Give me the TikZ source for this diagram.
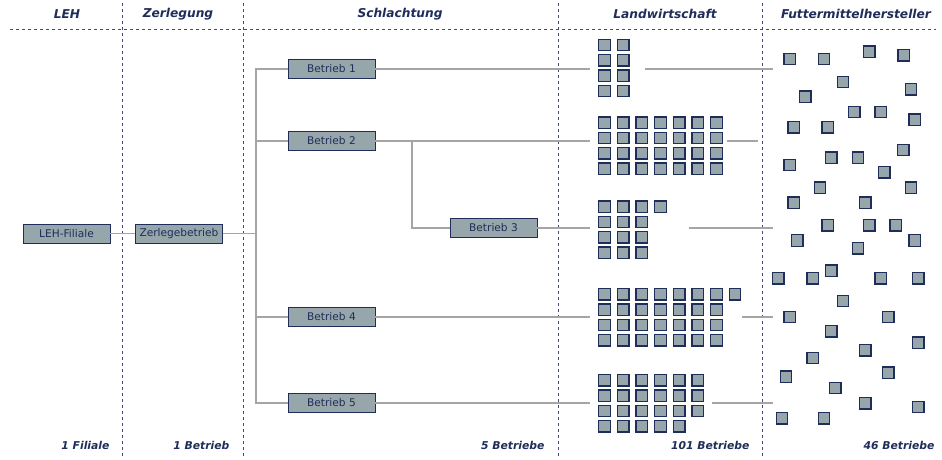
\documentclass[tikz,border=0pt]{standalone}
\usepackage{fontspec}
\setmainfont{DejaVu Sans}
\definecolor{navy}{RGB}{31,45,90}
\definecolor{boxgray}{RGB}{151,166,170}
\definecolor{linegray}{RGB}{165,165,165}
% one row of farm squares: y of the row, number of squares
\newcommand{\farmrow}[2]{\foreach \i in {1,...,#2} \node[sq] at ({604.5+18.65*(\i-1)},#1) {};}

\begin{document}
\begin{tikzpicture}[x=1pt, y=-1pt,
		box/.style={draw=navy, fill=boxgray, line width=0.9pt, minimum width=87pt, minimum height=19pt, inner sep=0pt, text=navy, font=\fontsize{10.6}{12}\selectfont},
		sq/.style={draw=navy, fill=boxgray, line width=1.3pt, minimum size=11.5pt, inner sep=0pt},
		conn/.style={linegray, line width=1.4pt},
		sep/.style={navy!85, line width=0.9pt, dash pattern=on 3pt off 3pt},
		hd/.style={text=navy, font=\fontsize{12.2}{14}\selectfont\bfseries\itshape},
		ft/.style={text=navy, anchor=east, font=\fontsize{10.8}{13}\selectfont\bfseries\itshape}]
	\useasboundingbox (0,0) rectangle (942,459);

	% column separators
	\draw[sep] (10,29) -- (936,29);
	\foreach \x in {122,243,558,762}
		\draw[sep] (\x,3) -- (\x,457);

	% headers and counts
	\node[hd] (hleh) at (67,14) {LEH};
	\node[hd] (hzer) at (178,14) {Zerlegung};
	\node[hd] (hsch) at (400,14) {Schlachtung};
	\node[hd] (hlan) at (665,14) {Landwirtschaft};
	\node[hd] (hfut) at (856,14) {Futtermittelhersteller};
	\node[ft] (fleh) at (113,445) {1 Filiale};
	\node[ft] (fzer) at (233,445) {1 Betrieb};
	\node[ft] (fsch) at (548,445) {5 Betriebe};
	\node[ft] (flan) at (753,445) {101 Betriebe};
	\node[ft] (ffut) at (938,445) {46 Betriebe};

	% stages
	\node[box] (leh) at (66.5,233.5) {LEH-Filiale};
	\node[box] (zer) at (179,233.5) {Zerlegebetrieb};
	\node[box] (b1) at (331.5,69) {Betrieb 1};
	\node[box] (b2) at (331.5,141) {Betrieb 2};
	\node[box] (b3) at (493.5,228) {Betrieb 3};
	\node[box] (b4) at (331.5,317) {Betrieb 4};
	\node[box] (b5) at (331.5,403) {Betrieb 5};

	% where the lines meet the farm blocks
	\coordinate (in1) at (590,69);    \coordinate (out1) at (645,69);
	\coordinate (in2) at (590,141);   \coordinate (out2) at (727,141);
	\coordinate (in3) at (590,228);   \coordinate (out3) at (689,228);
	\coordinate (in4) at (590,317);   \coordinate (out4) at (742,317);
	\coordinate (in5) at (590,403);   \coordinate (out5) at (712,403);
	\coordinate (fork) at (412,141);

	\draw[conn] (leh) -- (zer);
	\foreach \b in {b1,b2,b4,b5}
		\draw[conn] (zer.east) -- ++(33,0) |- (\b.west);
	\foreach \b/\n in {b1/1,b2/2,b3/3,b4/4,b5/5} {
		\draw[conn] (\b.east) -- (in\n);
		\draw[conn] (out\n) -- ++(31,0);
	}
	\draw[conn] (out1) -- ++(128,0);
	\draw[conn] (out3) -- ++(84,0);
	\draw[conn] (out5) -- ++(61,0);
	\draw[conn] (fork) |- (b3.west);

	% Landwirtschaft
	\foreach \y in {45,60.3,75.6,90.9} {\farmrow{\y}{2}}
	\foreach \y in {122.7,138,153.3,168.6} {\farmrow{\y}{7}}
	\farmrow{206.7}{4}
	\foreach \y in {222,237.3,252.6} {\farmrow{\y}{3}}
	\farmrow{294.3}{8}
	\foreach \y in {309.6,324.9,340.2} {\farmrow{\y}{7}}
	\foreach \y in {380.3,395.6,410.9} {\farmrow{\y}{6}}
	\farmrow{426.2}{5}

	% Futtermittelhersteller
	\foreach \x/\y in {783.7/53,818/53,863.3/45.7,897.7/49.3,837/76,799.3/90.7,905/83.3,
		848.3/106,874.7/106,908.7/113.7,787.7/121.3,821.7/121.3,897.3/144,825.3/151.7,
		852/151.7,783.7/159,878.3/166.3,814/181.7,905/181.7,787.7/196.7,859.3/196.7,
		821.7/219.3,863.3/219.3,889.7/219.3,791.3/234.5,908.7/234.5,852/242.3,772.3/272.3,
		806.7/272.3,825.3/264.7,874.7/272.3,912.3/272.3,837/295,783.7/311,882.3/311,
		825.3/325.3,912.3/336.7,859.3/344.3,806.7/352,882.3/366.7,780/370.7,829.3/382,
		859.3/397.3,912.3/401,776/412.3,818/412.3}
		\node[sq] at (\x+6,\y+6) {};
\end{tikzpicture}
\end{document}
